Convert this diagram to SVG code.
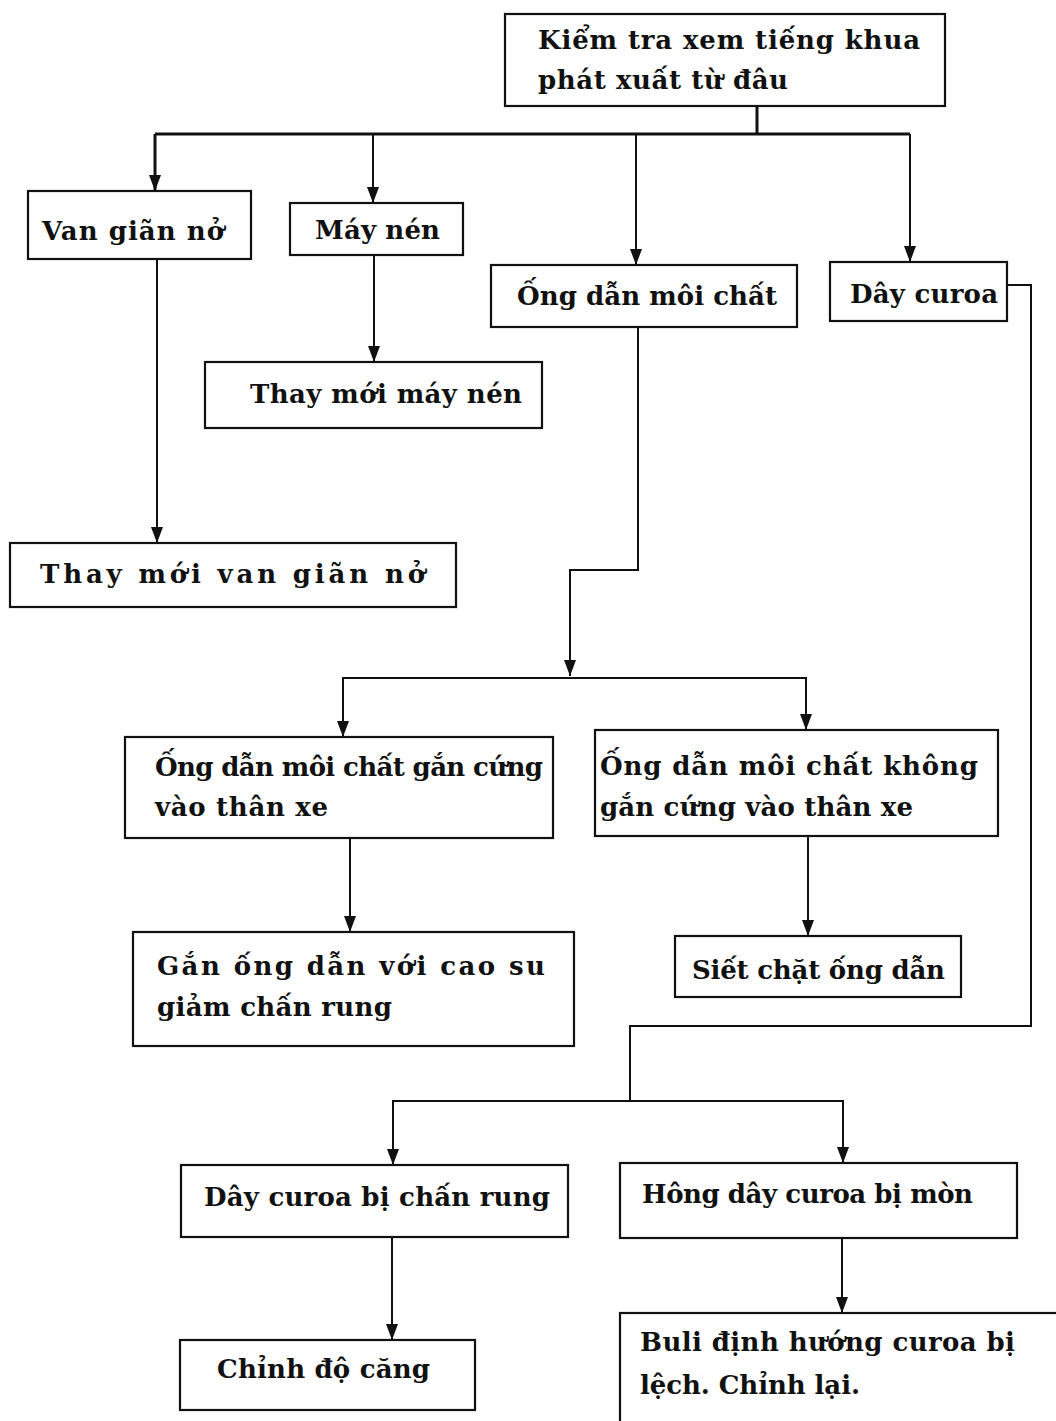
<svg xmlns="http://www.w3.org/2000/svg" width="1056" height="1421" viewBox="0 0 1056 1421">
<defs>
<style>
.box{fill:#fff;stroke:#111;stroke-width:2.2}
.t{font-family:"DejaVu Serif","Liberation Serif",serif;font-weight:bold;font-size:26px;fill:#111}
.c{fill:none;stroke:#111;stroke-width:2}
.ct{fill:none;stroke:#111;stroke-width:3}
</style>
<marker id="ah" viewBox="0 0 16 12" refX="16" refY="6" markerWidth="16" markerHeight="12" markerUnits="userSpaceOnUse" orient="auto-start-reverse">
<path d="M0,0 L16,6 L0,12 Z" fill="#111"/>
</marker>
</defs>
<rect width="1056" height="1421" fill="#fff"/>
<g id="connectors">
<path class="ct" d="M757,106 V134"/>
<path class="ct" d="M155,134 H910"/>
<path class="ct" d="M155,134 V191" marker-end="url(#ah)"/>
<path class="c" d="M373,134 V203" marker-end="url(#ah)"/>
<path class="c" d="M636,134 V265" marker-end="url(#ah)"/>
<path class="c" d="M910,134 V262" marker-end="url(#ah)"/>
<path class="c" d="M157,259 V543" marker-end="url(#ah)"/>
<path class="c" d="M374,255 V362" marker-end="url(#ah)"/>
<path class="c" d="M638,327 V570 H570 V676" marker-end="url(#ah)"/>
<path class="c" d="M343,737 V678 H806 V730" marker-start="url(#ah)" marker-end="url(#ah)"/>
<path class="c" d="M350,838 V932" marker-end="url(#ah)"/>
<path class="c" d="M808,836 V936" marker-end="url(#ah)"/>
<path class="c" d="M1007,285 H1031 V1026 H630 V1101"/>
<path class="c" d="M393,1165 V1101 H843 V1163" marker-start="url(#ah)" marker-end="url(#ah)"/>
<path class="c" d="M392,1237 V1340" marker-end="url(#ah)"/>
<path class="c" d="M842,1238 V1313" marker-end="url(#ah)"/>
</g>
<g id="n1"><rect class="box" x="505" y="14" width="440" height="92"/>
<text class="t" x="538" y="49" textLength="382" lengthAdjust="spacing">Kiểm tra xem tiếng khua</text>
<text class="t" x="538" y="89" textLength="250" lengthAdjust="spacing">phát xuất từ đâu</text></g>
<g id="n2"><rect class="box" x="28" y="191" width="223" height="68"/>
<text class="t" x="42" y="240" textLength="182" lengthAdjust="spacing">Van giãn nở</text></g>
<g id="n3"><rect class="box" x="290" y="203" width="173" height="52"/>
<text class="t" x="315" y="239" textLength="125" lengthAdjust="spacing">Máy nén</text></g>
<g id="n4"><rect class="box" x="491" y="265" width="306" height="62"/>
<text class="t" x="517" y="305" textLength="260" lengthAdjust="spacing">Ống dẫn môi chất</text></g>
<g id="n5"><rect class="box" x="830" y="262" width="177" height="59"/>
<text class="t" x="850" y="303" textLength="148" lengthAdjust="spacing">Dây curoa</text></g>
<g id="n6"><rect class="box" x="205" y="362" width="337" height="66"/>
<text class="t" x="250" y="403" textLength="272" lengthAdjust="spacing">Thay mới máy nén</text></g>
<g id="n7"><rect class="box" x="10" y="543" width="446" height="64"/>
<text class="t" x="40" y="583" textLength="385" lengthAdjust="spacing">Thay mới van giãn nở</text></g>
<g id="n8"><rect class="box" x="125" y="737" width="428" height="101"/>
<text class="t" x="155" y="776" textLength="388" lengthAdjust="spacing">Ống dẫn môi chất gắn cứng</text>
<text class="t" x="155" y="816" textLength="173" lengthAdjust="spacing">vào thân xe</text></g>
<g id="n9"><rect class="box" x="595" y="730" width="403" height="106"/>
<text class="t" x="600" y="775" textLength="378" lengthAdjust="spacing">Ống dẫn môi chất không</text>
<text class="t" x="600" y="816" textLength="313" lengthAdjust="spacing">gắn cứng vào thân xe</text></g>
<g id="n10"><rect class="box" x="133" y="932" width="441" height="114"/>
<text class="t" x="157" y="975" textLength="388" lengthAdjust="spacing">Gắn ống dẫn với cao su</text>
<text class="t" x="157" y="1016" textLength="235" lengthAdjust="spacing">giảm chấn rung</text></g>
<g id="n11"><rect class="box" x="675" y="936" width="286" height="61"/>
<text class="t" x="692" y="979" textLength="253" lengthAdjust="spacing">Siết chặt ống dẫn</text></g>
<g id="n12"><rect class="box" x="181" y="1165" width="387" height="72"/>
<text class="t" x="204" y="1206" textLength="346" lengthAdjust="spacing">Dây curoa bị chấn rung</text></g>
<g id="n13"><rect class="box" x="620" y="1163" width="397" height="75"/>
<text class="t" x="642" y="1203" textLength="331" lengthAdjust="spacing">Hông dây curoa bị mòn</text></g>
<g id="n14"><rect class="box" x="180" y="1340" width="295" height="70"/>
<text class="t" x="217" y="1378" textLength="213" lengthAdjust="spacing">Chỉnh độ căng</text></g>
<g id="n15"><rect class="box" x="620" y="1313" width="440" height="112"/>
<text class="t" x="640" y="1351" textLength="375" lengthAdjust="spacing">Buli định hướng curoa bị</text>
<text class="t" x="640" y="1394" textLength="220" lengthAdjust="spacing">lệch. Chỉnh lại.</text></g>
</svg>
